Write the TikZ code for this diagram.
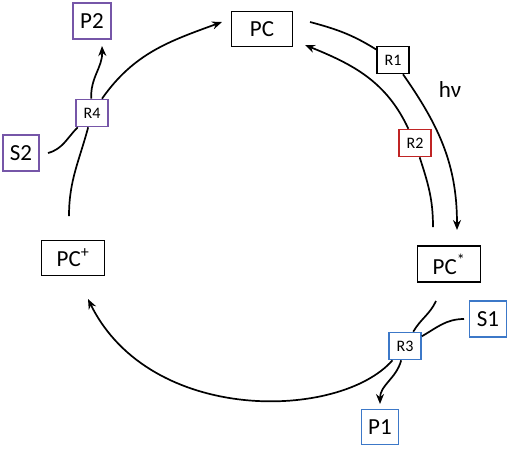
\documentclass[tikz,border=0pt]{standalone}
\usepackage{fontspec}
\setmainfont{Carlito}
\usetikzlibrary{arrows.meta}
\definecolor{rxpurple}{RGB}{118,86,168}
\definecolor{rxblue}{RGB}{60,120,200}
\definecolor{rxred}{RGB}{192,36,36}
\tikzset{
  big/.style={draw, line width=1.6pt, font=\fontsize{23}{26}\selectfont, inner sep=0pt, anchor=center},
  small/.style={draw, line width=1.6pt, font=\fontsize{16}{18}\selectfont, inner sep=0pt, minimum width=32pt, minimum height=27pt, anchor=center},
  conn/.style={line width=1.7pt},
  arr/.style={conn, -{Stealth[length=10pt,width=8pt]}}
}
\begin{document}
\begin{tikzpicture}[x=1pt,y=-1pt]
\useasboundingbox (0,0) rectangle (510,448);
% main species
\node[big, minimum width=61pt, minimum height=35pt] (pc) at (262,29) {PC};
\node[big, minimum width=63pt, minimum height=36pt] (pcs) at (449,264) {PC\textsuperscript{*}};
\node[big, minimum width=63pt, minimum height=35pt] (pcp) at (73,258) {PC\textsuperscript{+}};
% reagents/products
\node[big, draw=rxpurple, minimum width=38pt, minimum height=36pt] (p2) at (92,21) {P2};
\node[big, draw=rxpurple, minimum width=36pt, minimum height=36pt] (s2) at (21,153) {S2};
\node[big, draw=rxblue, minimum width=37pt, minimum height=36pt] (s1) at (488,319) {S1};
\node[big, draw=rxblue, minimum width=37pt, minimum height=35pt] (p1) at (380,427) {P1};
% reaction boxes
\node[small] (r1) at (393,60) {R1};
\node[small, draw=rxred] (r2) at (415,143) {R2};
\node[small, draw=rxblue] (r3) at (405,346) {R3};
\node[small, draw=rxpurple] (r4) at (92,113) {R4};
\node[font=\fontsize{23}{26}\selectfont] (hv) at (450,90) {hν};
% free ends
\coordinate (a1) at (310,22);
\coordinate (a1e) at (457,230);
\coordinate (a2) at (433,227);
\coordinate (a2e) at (305,45);
\coordinate (a3) at (436,301);
\coordinate (a3e) at (88,299);
\coordinate (a4) at (69,216);
\coordinate (a4e) at (222,22);
\coordinate (s2e) at (48,153);
\coordinate (s1e) at (464,319);
\coordinate (p1e) at (380,404);
\coordinate (p2e) at (102,46);
% R1: PC -> PC*
\draw[conn] (a1) to[out=-15,in=148] (r1);
\draw[arr] (r1) to[out=-55,in=90] (a1e);
% R2: PC* -> PC
\draw[conn] (a2) to[out=90,in=-72] (r2);
\draw[arr] (r2) to[out=115,in=-22] (a2e);
% R3: PC* + S1 -> PC+ + P1
\draw[conn] (a3) to[out=-115,in=60] (r3);
\draw[conn] (s1e) to[out=180,in=30] (r3);
\draw[arr] (r3) to[out=-105,in=90] (p1e);
\draw[arr] (r3) .. controls (340,420) and (150,425) .. (a3e);
% R4: PC+ + S2 -> PC + P2
\draw[conn] (a4) to[out=90,in=-105] (r4);
\draw[conn] (s2e) to[out=15,in=-135] (r4);
\draw[arr] (r4) to[out=93,in=-88] (p2e);
\draw[arr] (r4) to[out=55,in=-160] (a4e);
\end{tikzpicture}
\end{document}
